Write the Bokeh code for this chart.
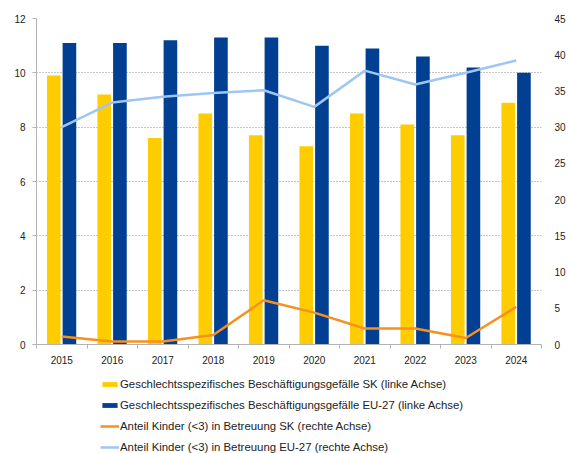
from bokeh.plotting import figure
from bokeh.models import (Range1d, LinearAxis, FixedTicker, Legend, LegendItem,
                          ColumnDataSource)
from bokeh.layouts import column
from bokeh.transform import dodge
from bokeh.embed import file_html
from bokeh.resources import INLINE

years = ["2015", "2016", "2017", "2018", "2019", "2020", "2021", "2022", "2023", "2024"]
gap_sk = [9.9, 9.2, 7.6, 8.5, 7.7, 7.3, 8.5, 8.1, 7.7, 8.9]
gap_eu = [11.1, 11.1, 11.2, 11.3, 11.3, 11.0, 10.9, 10.6, 10.2, 10.0]
care_sk = [1.1, 0.4, 0.4, 1.3, 6.1, 4.4, 2.2, 2.2, 0.9, 5.2]
care_eu = [30.0, 33.4, 34.2, 34.7, 35.1, 32.8, 37.8, 35.9, 37.5, 39.2]
left_ticks = [0, 2, 4, 6, 8, 10, 12]
right_ticks = [0, 5, 10, 15, 20, 25, 30, 35, 40, 45]

labels = [
    "Geschlechtsspezifisches Beschäftigungsgefälle SK (linke Achse)",
    "Geschlechtsspezifisches Beschäftigungsgefälle EU-27 (linke Achse)",
    "Anteil Kinder (<3) in Betreuung SK (rechte Achse)",
    "Anteil Kinder (<3) in Betreuung EU-27 (rechte Achse)",
]

YELLOW = "#FFCC00"
BLUE = "#003F91"
ORANGE = "#F7901E"
LIGHT = "#9EC6F5"
FONT = "Liberation Sans"

centers = [i + 0.5 for i in range(len(years))]
src = ColumnDataSource(dict(x=centers, gap_sk=gap_sk, gap_eu=gap_eu,
                            care_sk=care_sk, care_eu=care_eu))

p = figure(width=568, height=370, x_range=Range1d(0, len(years)),
           y_range=Range1d(left_ticks[0], left_ticks[-1]),
           output_backend="svg", toolbar_location=None,
           min_border_left=36, min_border_right=20, min_border_top=18,
           min_border_bottom=26)
p.extra_y_ranges = {"right": Range1d(right_ticks[0], right_ticks[-1])}
p.outline_line_color = None
p.background_fill_color = "white"
p.border_fill_color = "white"


def add_series(fig, with_dodge=True):
    b1 = fig.vbar(x=dodge("x", -0.158) if with_dodge else "x", top="gap_sk",
                  width=0.27, source=src, fill_color=YELLOW, line_color=None)
    b2 = fig.vbar(x=dodge("x", 0.152) if with_dodge else "x", top="gap_eu",
                  width=0.27, source=src, fill_color=BLUE, line_color=None)
    kw = dict(y_range_name="right") if with_dodge else {}
    l1 = fig.line(x="x", y="care_sk", source=src, line_color=ORANGE,
                  line_width=2.5, **kw)
    l2 = fig.line(x="x", y="care_eu", source=src, line_color=LIGHT,
                  line_width=2.5, **kw)
    return [b1, b2, l1, l2]


add_series(p)

# x axis
xa = p.xaxis[0]
xa.ticker = FixedTicker(ticks=centers, minor_ticks=list(range(len(years) + 1)))
xa.major_label_overrides = {c: y for c, y in zip(centers, years)}
xa.major_tick_out = 0
xa.major_tick_in = 0
xa.minor_tick_out = 4
xa.minor_tick_in = 0
xa.minor_tick_line_color = "#b3b3b3"
xa.axis_line_color = "#b3b3b3"
xa.major_label_standoff = 7
xa.major_label_text_font = FONT
xa.major_label_text_font_size = "10px"
xa.major_label_text_color = "#222222"

# left axis
ya = p.yaxis[0]
ya.ticker = FixedTicker(ticks=left_ticks)
ya.axis_line_color = "#b3b3b3"
ya.major_tick_line_color = "#b3b3b3"
ya.major_tick_out = 4
ya.major_tick_in = 0
ya.minor_tick_line_color = None
ya.major_label_standoff = 7
ya.major_label_text_font = FONT
ya.major_label_text_font_size = "10px"
ya.major_label_text_color = "#222222"

# right axis
ra = LinearAxis(y_range_name="right", ticker=FixedTicker(ticks=right_ticks))
ra.axis_line_color = None
ra.major_tick_line_color = None
ra.minor_tick_line_color = None
ra.major_label_standoff = 7
ra.major_label_text_font = FONT
ra.major_label_text_font_size = "10px"
ra.major_label_text_color = "#222222"
p.add_layout(ra, "right")

p.xgrid.grid_line_color = None
p.ygrid.ticker = FixedTicker(ticks=left_ticks)
p.ygrid.grid_line_color = "#8c8c8c"
p.ygrid.grid_line_dash = "1 2"
p.ygrid.grid_line_width = 1

# legend strip below the chart (same series, view range set away from data)
lg = figure(width=568, height=83, x_range=Range1d(1000, 1001),
            y_range=Range1d(1000, 1001),
            output_backend="svg", toolbar_location=None,
            x_axis_type=None, y_axis_type=None,
            min_border_left=0, min_border_right=0, min_border_top=0,
            min_border_bottom=0)
lg.outline_line_color = None
lg.xgrid.grid_line_color = None
lg.ygrid.grid_line_color = None
lg.background_fill_color = "white"
lg.border_fill_color = "white"
rs = add_series(lg, with_dodge=False)

legend = Legend(items=[LegendItem(label=t, renderers=[r]) for t, r in zip(labels, rs)],
                location=(64, 0), orientation="vertical")
legend.padding = 0
legend.margin = 0
legend.spacing = 9
legend.border_line_color = None
legend.background_fill_alpha = 0
legend.glyph_width = 19
legend.glyph_height = 6
legend.label_height = 12
legend.label_standoff = 1
legend.label_text_font = FONT
legend.label_text_font_size = "11.4px"
legend.label_text_color = "#222222"
lg.add_layout(legend, "center")

open("out.html", "w").write(file_html(column(p, lg), INLINE))
